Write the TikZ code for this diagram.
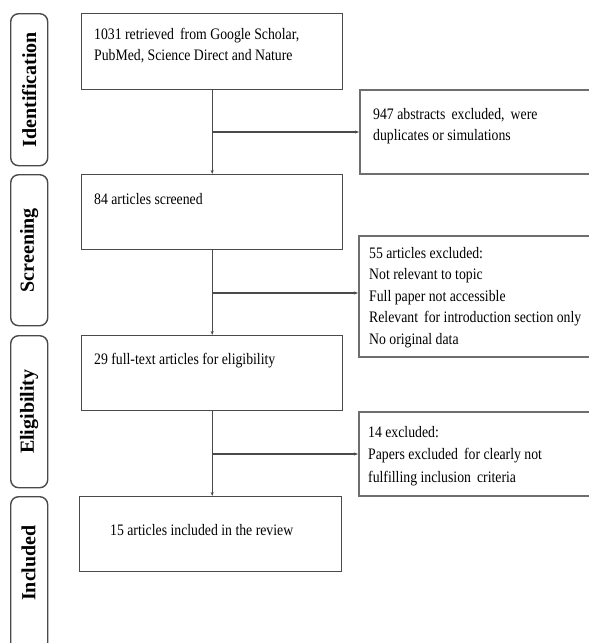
\documentclass[tikz,border=0pt]{standalone}
\usepackage{fontspec}
\setmainfont[FakeStretch=0.86]{Liberation Serif}
\newfontfamily\labelfont{Liberation Serif}
\usetikzlibrary{arrows.meta}
\definecolor{boxline}{HTML}{4A4A4A}
\definecolor{exline}{HTML}{6E6E6E}
\tikzset{
  mainbox/.style={draw=boxline, line width=1.4pt, anchor=north west, inner sep=0pt},
  exbox/.style={draw=exline, line width=2pt, anchor=north west, inner sep=0pt},
  phasebox/.style={draw=boxline, line width=1.4pt, rounded corners=8pt, anchor=north west, inner sep=0pt, minimum width=37pt},
  phaselabel/.style={rotate=90, font=\labelfont\fontsize{20}{24}\selectfont\bfseries, inner sep=0pt},
  bodytext/.style={anchor=north west, align=left, inner sep=0pt, font=\fontsize{16}{21.5}\selectfont},
  flow/.style={draw=boxline, line width=1.1pt},
  arr/.style={flow, -{Stealth[length=4pt,width=3pt]}}
}
% strut height = 0.7 * 21.5 = 15.05pt above the first baseline
\begin{document}
\begin{tikzpicture}[x=1pt,y=-1pt]
\clip (0,0) rectangle (589,643);
\fill[white] (0,0) rectangle (589,643);
% phase boxes
\node[phasebox, minimum height=152pt] (p1) at (10,13) {};
\node[phasebox, minimum height=151pt] (p2) at (10,174) {};
\node[phasebox, minimum height=152pt] (p3) at (10,335) {};
\node[phasebox, minimum height=170pt] (p4) at (10,496) {};
\node[phaselabel] (l1) at (p1.center) {Identification};
\node[phaselabel] (l2) at (p2.center) {Screening};
\node[phaselabel] (l3) at (p3.center) {Eligibility};
\node[phaselabel] (l4) at (28.5,563) {Included};
% main boxes
\node[mainbox, minimum width=261pt, minimum height=76pt] (b1) at (81,13) {};
\node[mainbox, minimum width=261pt, minimum height=75pt] (b2) at (81,174) {};
\node[mainbox, minimum width=261pt, minimum height=75pt] (b3) at (81,335) {};
\node[mainbox, minimum width=262pt, minimum height=75pt] (b4) at (79,496) {};
\node[bodytext] (t1) at (94,23.95) {\strut 1031 retrieved\, from Google Scholar,\\PubMed, Science Direct and Nature};
\node[bodytext] (t2) at (94,188.95) {\strut 84 articles screened};
\node[bodytext] (t3) at (94,348.95) {\strut 29 full-text articles for eligibility};
\node[bodytext] (t4) at (110,519.95) {\strut 15 articles included in the review};
% exclusion boxes
\node[exbox, minimum width=250pt, minimum height=84pt] (r1) at (359,89) {};
\node[exbox, minimum width=250pt, minimum height=121pt] (r2) at (358,235) {};
\node[exbox, minimum width=250pt, minimum height=84pt] (r3) at (358,411) {};
\node[bodytext] (s1) at (373,103.95) {\strut 947 abstracts\, excluded,\, were\\duplicates or simulations};
\node[bodytext] (s2) at (369,242.95) {\strut 55 articles excluded:\\Not relevant to topic\\Full paper not accessible\\Relevant\, for introduction section only\\No original data};
\node[bodytext, font=\fontsize{16}{22.5}\selectfont] (s3) at (368,421.25) {\strut 14 excluded:\\Papers excluded\, for clearly not\\fulfilling inclusion\, criteria};
% connectors
\draw[arr] (b1.south) -- (b2.north);
\draw[arr] (b2.south) -- (b3.north);
\draw[arr] (b3.south) -- (b3.south |- b4.north);
\draw[arr] (b1.south |- r1.west) -- (r1.west);
\draw[arr] (b2.south |- 0,293) coordinate (c2) -- (r2.west |- c2);
\draw[arr] (b3.south |- r3.west) -- (r3.west);
\end{tikzpicture}
\end{document}
